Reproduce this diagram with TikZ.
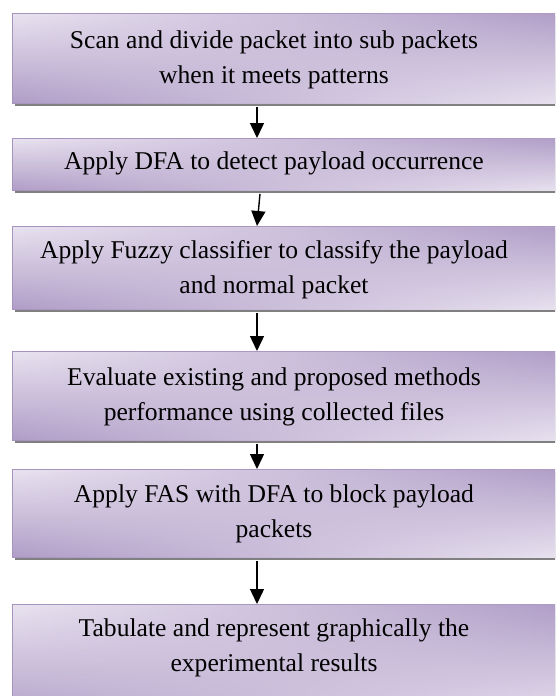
\documentclass[tikz,border=0pt]{standalone}
\usepackage{fontspec}
\setmainfont{Liberation Serif}
\usetikzlibrary{arrows.meta,shadows,fadings}
\definecolor{boxlight}{HTML}{E9E3F0}
\definecolor{boxdark}{HTML}{B09DC7}
\definecolor{boxedge}{HTML}{A693BE}
\tikzfading[name=rightin, left color=transparent!100, right color=transparent!0]
\tikzset{
  stepbox/.style={draw=boxedge, line width=0.8pt, rectangle, inner sep=0pt,
    top color=boxlight, bottom color=boxdark,
    drop shadow={shadow xshift=2.5pt, shadow yshift=-3pt, fill=black!50, opacity=1},
    postaction={top color=boxdark, bottom color=boxlight, path fading=rightin, draw=none}},
  steptext/.style={align=center, inner sep=0pt, font=\fontsize{25.6}{35}\selectfont},
  arr/.style={line width=1.4pt, -{Triangle[length=15pt,width=14pt]}}
}
\begin{document}
\begin{tikzpicture}[x=1pt,y=1pt]
\useasboundingbox (0,0) rectangle (555,-696);
\clip (0,0) rectangle (555,-696);
\fill[white] (0,0) rectangle (555,-696);
\coordinate (ax) at (257,0);
% boxes
\node[stepbox, minimum width=553pt, minimum height=90pt, anchor=north west] (b1) at (12,-13) {};
\node[stepbox, minimum width=553pt, minimum height=52pt, anchor=north west] (b2) at (12,-138) {};
\node[stepbox, minimum width=553pt, minimum height=83pt, anchor=north west] (b3) at (12,-226) {};
\node[stepbox, minimum width=553pt, minimum height=89pt, anchor=north west] (b4) at (12,-351) {};
\node[stepbox, minimum width=553pt, minimum height=88pt, anchor=north west] (b5) at (12,-469) {};
\node[stepbox, minimum width=553pt, minimum height=120pt, anchor=north west] (b6) at (12,-604) {};
% texts
\node[steptext] (t1) at (274,-60) {Scan and divide packet into sub packets\\when it meets patterns};
\node[steptext] (t2) at (274,-163) {Apply DFA to detect payload occurrence};
\node[steptext] (t3) at (274,-270) {Apply Fuzzy classifier to classify the payload\\and normal packet};
\node[steptext] (t4) at (274,-397) {Evaluate existing and proposed methods\\performance using collected files};
\node[steptext] (t5) at (274,-514) {Apply FAS with DFA to block payload\\packets};
\node[steptext] (t6) at (274,-648) {Tabulate and represent graphically the\\experimental results};
% arrows
\draw[arr] ([yshift=-3pt]b1.south -| ax) -- (b2.north -| ax);
\draw[arr] ([yshift=-3pt,xshift=3pt]b2.south -| ax) -- (b3.north -| ax);
\draw[arr] ([yshift=-3pt]b3.south -| ax) -- (b4.north -| ax);
\draw[arr] ([yshift=-3pt]b4.south -| ax) -- (b5.north -| ax);
\draw[arr] ([yshift=-3pt]b5.south -| ax) -- (b6.north -| ax);
\end{tikzpicture}
\end{document}
